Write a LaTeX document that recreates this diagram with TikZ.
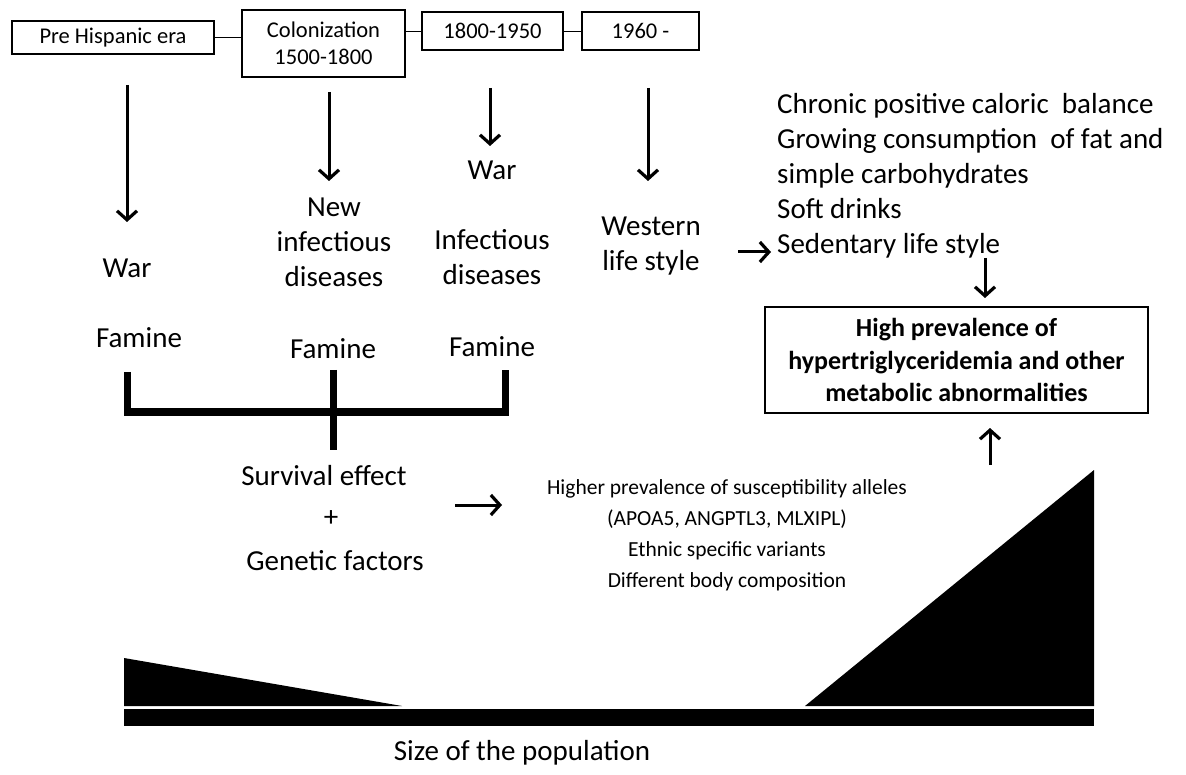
\documentclass[tikz,border=0pt]{standalone}
\usepackage{fontspec}
\setmainfont{Carlito}
\usetikzlibrary{arrows.meta}
\begin{document}
\begin{tikzpicture}[x=1pt,y=-1pt,
  topbox/.style={draw,line width=1.2pt,minimum height=#1,inner sep=0pt,font=\fontsize{22.5}{27}\selectfont,align=center},
  txt/.style={inner sep=0pt,align=center,font=\fontsize{29}{35}\selectfont},
  mid/.style={inner sep=0pt,align=center,font=\fontsize{21.5}{31}\selectfont},
  arr/.style={line width=3pt,-{Straight Barb[length=9pt,width=20pt,line width=3.2pt]}},
  thick7/.style={line width=7pt}]
\useasboundingbox (0,0) rectangle (1186,775);
% top boxes
\node[topbox=33pt,minimum width=202pt] (pre) at (113,37.5) {Pre Hispanic era};
\node[topbox=67pt,minimum width=163pt] (col) at (323.5,43.5) {Colonization\\1500-1800};
\node[topbox=38pt,minimum width=141pt] (e18) at (492.5,31) {1800-1950};
\node[topbox=38pt,minimum width=117pt] (e19) at (640.5,31) {1960 -};
\draw[line width=0.9pt] (pre.east) -- (pre.east -| col.west);
\draw[line width=0.9pt] (col.east |- e18.west) -- (e18.west);
\draw[line width=0.9pt] (e18.east) -- (e19.west);
% arrow anchors
\coordinate (a1s) at (127,85); \coordinate (a1e) at (127,222);
\coordinate (a2s) at (329,92); \coordinate (a2e) at (329,181);
\coordinate (a3s) at (490,88); \coordinate (a3e) at (490,146);
\coordinate (a4s) at (648,88); \coordinate (a4e) at (648,181);
\draw[arr] (a1s) -- (a1e);
\draw[arr] (a2s) -- (a2e);
\draw[arr] (a3s) -- (a3e);
\draw[arr] (a4s) -- (a4e);
% column texts
\node[txt] (war1) at (127,268) {War};
\node[txt] (fam1) at (139,338) {Famine};
\node[txt] (newinf) at (334,242) {New\\infectious\\diseases};
\node[txt] (fam2) at (333,349) {Famine};
\node[txt] (war3) at (492,170) {War};
\node[txt] (inf3) at (492,257.5) {Infectious\\diseases};
\node[txt] (fam3) at (492,347) {Famine};
\node[txt] (west) at (651,246) {Western\\life style};
% right list
\node[txt,align=left,anchor=west] (list) at (777,176) {Chronic positive caloric\ \ balance\\Growing consumption\ \ of fat and\\simple carbohydrates\\Soft drinks\\Sedentary life style};
\coordinate (w1) at (738,252); \coordinate (w2) at (771,252);
\draw[arr] (w1) -- (w2);
\coordinate (d1) at (985,258); \coordinate (d2) at (985,298);
\draw[arr] (d1) -- (d2);
% outcome box
\node[draw,line width=1.2pt,minimum width=383pt,minimum height=106pt,inner sep=0pt,align=center,font=\fontsize{26}{32.5}\selectfont\bfseries] (hp) at (956.5,360) {High prevalence of\\hypertriglyceridemia and other\\metabolic abnormalities};
\coordinate (u1) at (990,465); \coordinate (u2) at (990,428);
\draw[arr] (u1) -- (u2);
% bracket
\draw[thick7] (127,372) -- (127,412) -- (505,412) -- (505,370);
\draw[thick7] (333,370) -- (333,450);
% survival
\node[txt] (surv) at (324,476) {Survival effect};
\node[txt] (plus) at (331,519) {+};
\node[txt] (gen) at (335,561) {Genetic factors};
\coordinate (g1) at (455,505); \coordinate (g2) at (502,505);
\draw[arr] (g1) -- (g2);
\node[mid] (alle) at (727,535.5) {Higher prevalence of susceptibility alleles\\(APOA5, ANGPTL3, MLXIPL)\\Ethnic specific variants\\Different body composition};
% population shapes
\fill (124,658) -- (124,706) -- (402,706) -- cycle;
\fill (805,706) -- (1094,706) -- (1094,470) -- cycle;
\fill (124,709) rectangle (1094,726);
\node[txt] (size) at (522,753) {Size of the population};
\end{tikzpicture}
\end{document}
